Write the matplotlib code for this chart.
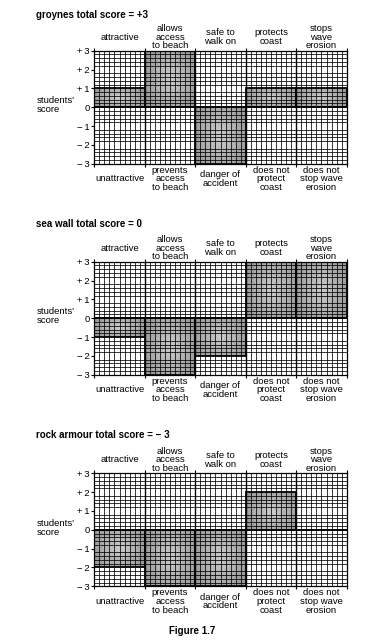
import numpy as np
import matplotlib
matplotlib.use("Agg")
import matplotlib.pyplot as plt

plt.rcParams['font.family'] = ['Liberation Sans', 'DejaVu Sans']

# chart data
top_labels = ["attractive", "allows\naccess\nto beach", "safe to\nwalk on", "protects\ncoast", "stops\nwave\nerosion"]
bottom_labels = ["unattractive", "prevents\naccess\nto beach", "danger of\naccident", "does not\nprotect\ncoast", "does not\nstop wave\nerosion"]
score_ticks = [3, 2, 1, 0, -1, -2, -3]
score_tick_labels = ["+\u20093", "+\u20092", "+\u20091", "0", "\u2212\u20091", "\u2212\u20092", "\u2212\u20093"]

groynes = [1, 3, -3, 1, 1]
sea_wall = [-1, -3, -2, 3, 3]
rock_armour = [-2, -3, -3, 2, 0]

panel_titles = ["groynes total score = +3", "sea wall total score = 0", "rock armour total score = \u2212 3"]
panel_scores = [groynes, sea_wall, rock_armour]

W, H = 384, 640
fig = plt.figure(figsize=(W / 100, H / 100), dpi=100)

# pixel positions of the grids (top of +3 line, title y)
grid_tops = [50.7, 261.7, 473.3]
title_ys = [15, 224, 435.5]
grid_left, grid_right = 94.3, 346.7
grid_h = 113.0
fs = 6.8

# soft gradient used inside the shaded bars (darker at edges)
gx = np.linspace(-1, 1, 60)
gy = np.linspace(-1, 1, 60)
GX, GY = np.meshgrid(gx, gy)
grad = np.clip(np.sqrt(GX ** 2 * 0.8 + GY ** 2 * 0.5), 0, 1)

for title, scores, top, ty in zip(panel_titles, panel_scores, grid_tops, title_ys):
    ax = fig.add_axes([grid_left / W, 1 - (top + grid_h) / H,
                       (grid_right - grid_left) / W, grid_h / H])
    x = np.arange(len(scores)) + 0.5

    bars = ax.bar(x, scores, width=1.0, color="#b5b5b5", edgecolor="none", zorder=1)
    for b in bars:
        x0, y0 = b.get_x(), b.get_y()
        w, h = b.get_width(), b.get_height()
        if h == 0:
            continue
        im = ax.imshow(grad, cmap="gray_r", vmin=-1.0, vmax=4.0, aspect="auto",
                       extent=(x0, x0 + w, min(y0, y0 + h), max(y0, y0 + h)),
                       zorder=1, interpolation="bilinear")
        im.set_clip_path(b)

    ax.set_xlim(0, 5)
    ax.set_ylim(-3, 3)

    # graph-paper grid
    ax.set_xticks(np.arange(0, 5.01, 0.1), minor=True)
    ax.set_yticks(np.arange(-3, 3.01, 0.2), minor=True)
    ax.grid(which="minor", color="black", linewidth=0.55, zorder=2)
    for xv in range(1, 5):
        ax.axvline(xv, color="black", linewidth=1.0, zorder=3)
    ax.axhline(0, color="black", linewidth=1.2, zorder=3)

    # outlines of the score bars
    ax.bar(x, scores, width=1.0, fill=False, edgecolor="black", linewidth=1.3, zorder=4)

    ax.set_yticks(score_ticks)
    ax.set_yticklabels(score_tick_labels, fontsize=fs)
    ax.set_xticks(np.arange(0, 5.01, 1))
    ax.set_xticklabels([])
    ax.tick_params(axis="both", which="major", length=2.5, width=0.8, pad=1)
    ax.tick_params(axis="x", which="major", top=True, direction="out")
    ax.tick_params(which="minor", length=0)
    for s in ax.spines.values():
        s.set_linewidth(0.9)

    for i in range(5):
        ax.annotate(top_labels[i], xy=(i + 0.5, 1), xycoords=("data", "axes fraction"),
                    xytext=(0, 9.8), textcoords="offset points", ha="center", va="center",
                    fontsize=fs, linespacing=0.95)
        ax.annotate(bottom_labels[i], xy=(i + 0.5, 0), xycoords=("data", "axes fraction"),
                    xytext=(0, -11), textcoords="offset points", ha="center", va="center",
                    fontsize=fs, linespacing=0.95)

    ax.text(-0.23, 0.1, "students'\nscore", transform=ax.get_yaxis_transform(),
            ha="left", va="center", fontsize=fs, linespacing=1.0)

    fig.text(36 / W, 1 - ty / H, title, ha="left", va="center", fontsize=7.0, fontweight="bold")

fig.text(192 / W, 1 - 631 / H, "Figure 1.7", ha="center", va="center", fontsize=7.0, fontweight="bold")

fig.savefig("out.png", dpi=100)
